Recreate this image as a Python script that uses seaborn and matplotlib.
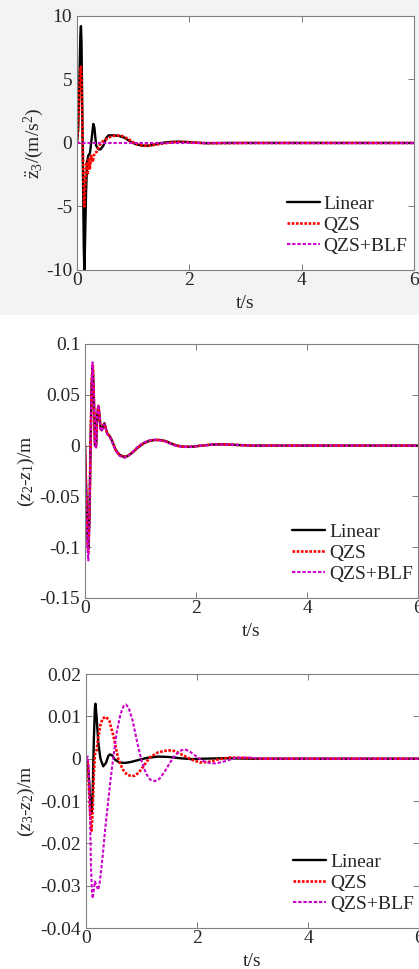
"""
Vehicle suspension response: body acceleration and the two
relative displacements for Linear, QZS and QZS+BLF cases.
"""

import matplotlib
matplotlib.use("Agg")
import matplotlib.pyplot as plt
from matplotlib.patches import Rectangle
import seaborn as sns

# ---- panel 1: body acceleration (m/s^2) ----
t1_lin = [0, 0.02, 0.04, 0.06, 0.07, 0.08, 0.10, 0.12, 0.13, 0.14, 0.16, 0.18, 0.20,
          0.23, 0.26, 0.29, 0.31, 0.34, 0.38, 0.42, 0.47, 0.52, 0.56, 0.65, 0.75, 0.85,
          0.95, 1.05, 1.15, 1.25, 1.35, 1.5, 1.65, 1.8, 1.95, 2.1, 2.3, 2.6, 3.0, 6.0]
a_lin = [0, 1.0, 4.5, 8.5, 9.2, 8.0, 0.0, -8.0, -10.0, -8.5, -4.0, -1.5, -1.0,
         -0.8, 0.3, 1.5, 1.2, -0.2, -0.5, -0.5, -0.2, 0.4, 0.6, 0.6, 0.55, 0.4,
         0.1, -0.1, -0.2, -0.22, -0.15, 0.0, 0.08, 0.1, 0.08, 0.03, -0.02, 0.0, 0.0, 0.0]
t1_qzs = [0, 0.02, 0.04, 0.06, 0.07, 0.08, 0.10, 0.12, 0.13, 0.15, 0.17, 0.19, 0.21,
          0.23, 0.25, 0.28, 0.31, 0.35, 0.40, 0.45, 0.52, 0.6, 0.7, 0.8, 0.9, 1.0,
          1.1, 1.2, 1.3, 1.45, 1.6, 1.8, 2.0, 2.2, 2.5, 3.0, 6.0]
a_qzs = [0, 1.5, 4.0, 5.8, 6.0, 5.0, 0.5, -4.0, -5.0, -3.0, -1.5, -2.5, -1.2,
         -2.0, -1.0, -1.5, -0.8, -0.7, -0.2, 0.1, 0.3, 0.5, 0.6, 0.55, 0.35, 0.05,
         -0.15, -0.22, -0.2, -0.1, 0.0, 0.1, 0.05, 0.0, -0.02, 0.0, 0.0]
t1_blf = [0, 6.0]
a_blf = [0, 0]

# ---- panel 2: z2 - z1 (m) ----
t2_lin = [0, 0.02, 0.04, 0.06, 0.08, 0.10, 0.12, 0.14, 0.16, 0.18, 0.20, 0.22, 0.24,
          0.26, 0.28, 0.30, 0.33, 0.35, 0.37, 0.40, 0.45, 0.50, 0.55, 0.62, 0.70, 0.76,
          0.85, 0.95, 1.05, 1.15, 1.25, 1.35, 1.45, 1.55, 1.65, 1.75, 1.85, 1.95, 2.1,
          2.3, 2.5, 2.7, 3.0, 6.0]
d21_lin = [0, -0.04, -0.085, -0.10, -0.07, 0.0, 0.06, 0.078, 0.045, 0.0, 0.0, 0.03, 0.038,
           0.03, 0.017, 0.015, 0.02, 0.022, 0.018, 0.012, 0.009, 0.003, -0.004, -0.009,
           -0.011, -0.0105, -0.007, -0.002, 0.002, 0.0045, 0.0055, 0.0055, 0.0045, 0.002,
           0.0, -0.001, -0.0012, -0.001, 0.0, 0.001, 0.0012, 0.0007, 0.0, 0.0]
d21_qzs = [0, -0.045, -0.09, -0.105, -0.072, 0.0, 0.062, 0.08, 0.046, 0.0, -0.001, 0.031, 0.039,
           0.031, 0.017, 0.015, 0.02, 0.021, 0.018, 0.012, 0.009, 0.003, -0.004, -0.0095,
           -0.0112, -0.0105, -0.007, -0.002, 0.002, 0.0045, 0.0055, 0.0055, 0.0042, 0.002,
           0.0, -0.001, -0.0012, -0.001, 0.0, 0.001, 0.0012, 0.0007, 0.0, 0.0]
t2_blf = [0, 0.02, 0.04, 0.06, 0.08, 0.10, 0.12, 0.135, 0.16, 0.18, 0.20, 0.22, 0.24,
          0.26, 0.28, 0.30, 0.33, 0.35, 0.37, 0.40, 0.45, 0.50, 0.55, 0.62, 0.70, 0.75,
          0.85, 0.95, 1.05, 1.15, 1.25, 1.32, 1.45, 1.55, 1.65, 1.75, 1.85, 1.95, 2.1,
          2.3, 2.5, 2.7, 3.0, 6.0]
d21_blf = [0, -0.05, -0.1, -0.113, -0.075, 0.0, 0.065, 0.082, 0.048, 0.0, -0.002, 0.033, 0.04,
           0.031, 0.016, 0.014, 0.019, 0.021, 0.017, 0.011, 0.008, 0.002, -0.005, -0.01,
           -0.012, -0.0115, -0.007, -0.001, 0.003, 0.005, 0.0058, 0.0055, 0.004, 0.0015,
           -0.0005, -0.0012, -0.0013, -0.001, 0.0, 0.001, 0.0012, 0.0007, 0.0, 0.0]

# ---- panel 3: z3 - z2 (m) ----
t3_lin = [0, 0.03, 0.06, 0.08, 0.10, 0.12, 0.14, 0.16, 0.17, 0.19, 0.22, 0.26, 0.31,
          0.36, 0.40, 0.43, 0.47, 0.52, 0.6, 0.7, 0.8, 0.95, 1.1, 1.3, 1.5, 1.7, 1.9,
          2.1, 2.5, 3.0, 6.0]
d32_lin = [0, -0.001, -0.006, -0.011, -0.013, -0.008, 0.004, 0.012, 0.013, 0.01, 0.004, 0.0,
           -0.0018, -0.001, 0.0006, 0.001, 0.0008, -0.0002, -0.0009, -0.001, -0.0008, -0.0003,
           0.0002, 0.0005, 0.0004, 0.0001, -0.0001, 0.0, 0.0001, 0.0, 0.0]
t3_qzs = [0, 0.03, 0.06, 0.08, 0.10, 0.12, 0.14, 0.16, 0.19, 0.22, 0.26, 0.30, 0.36,
          0.42, 0.5, 0.58, 0.66, 0.74, 0.82, 0.88, 0.95, 1.05, 1.15, 1.3, 1.48, 1.6,
          1.75, 1.9, 2.05, 2.2, 2.4, 2.6, 2.8, 3.2, 6.0]
d32_qzs = [0, -0.001, -0.009, -0.015, -0.017, -0.012, -0.004, 0.001, 0.002, 0.005, 0.008,
           0.0095, 0.0099, 0.009, 0.005, 0.0, -0.0025, -0.0038, -0.0041, -0.004, -0.0033,
           -0.0015, 0.0003, 0.0015, 0.002, 0.0018, 0.0008, -0.0002, -0.0009, -0.0008,
           -0.0001, 0.0003, 0.0002, 0.0, 0.0]
t3_blf = [0, 0.03, 0.05, 0.07, 0.09, 0.11, 0.12, 0.14, 0.16, 0.19, 0.22, 0.25, 0.30,
          0.35, 0.40, 0.45, 0.49, 0.55, 0.62, 0.68, 0.72, 0.77, 0.84, 0.92, 1.0, 1.08,
          1.16, 1.24, 1.32, 1.42, 1.52, 1.62, 1.72, 1.78, 1.86, 1.96, 2.1, 2.25, 2.35,
          2.5, 2.7, 2.9, 3.2, 6.0]
d32_blf = [0, 0.0005, -0.002, -0.012, -0.026, -0.032, -0.033, -0.031, -0.029, -0.030,
           -0.031, -0.029, -0.023, -0.016, -0.010, -0.004, 0.0, 0.006, 0.0105, 0.0125,
           0.0128, 0.012, 0.009, 0.004, -0.0005, -0.0035, -0.005, -0.0053, -0.0048, -0.003,
           -0.0008, 0.001, 0.002, 0.0022, 0.0018, 0.0008, -0.0005, -0.0011, -0.0011,
           -0.0006, 0.0002, 0.0003, 0.0, 0.0]

labels = ["Linear", "QZS", "QZS+BLF"]
y_ticks = [[-10, -5, 0, 5, 10],
           [-0.15, -0.1, -0.05, 0, 0.05, 0.1],
           [-0.04, -0.03, -0.02, -0.01, 0, 0.01, 0.02]]
y_ticklabels = [["-10", "-5", "0", "5", "10"],
                ["-0.15", "-0.1", "-0.05", "0", "0.05", "0.1"],
                ["-0.04", "-0.03", "-0.02", "-0.01", "0", "0.01", "0.02"]]
y_labels = [r"$\ddot{\mathrm{z}}_3$/(m/s$^2$)",
            r"($z_2$-$z_1$)/m",
            r"($z_3$-$z_2$)/m"]
x_ticks = [0, 2, 4, 6]

sns.set_style("ticks")
plt.rcParams["font.family"] = ["Liberation Serif", "DejaVu Serif"]
plt.rcParams["mathtext.fontset"] = "custom"
plt.rcParams["mathtext.rm"] = "Liberation Serif"
plt.rcParams["mathtext.it"] = "Liberation Serif:italic"
plt.rcParams["font.size"] = 14

fig = plt.figure(figsize=(4.19, 9.69), dpi=100)
fig.patch.set_facecolor("white")
# light grey backdrop behind the top panel
fig.patches.append(Rectangle((0, 0.675), 1, 0.325, transform=fig.transFigure,
                             facecolor="#f3f3f3", edgecolor="none", zorder=-5))

boxes = [(0.1838, 0.7214, 0.8043, 0.2621),
         (0.2029, 0.3829, 0.7947, 0.2621),
         (0.2053, 0.0423, 0.7947, 0.2621)]
series = [
    [(t1_lin, a_lin), (t1_qzs, a_qzs), (t1_blf, a_blf)],
    [(t2_lin, d21_lin), (t2_lin, d21_qzs), (t2_blf, d21_blf)],
    [(t3_lin, d32_lin), (t3_qzs, d32_qzs), (t3_blf, d32_blf)],
]
styles = [dict(color="black", linestyle="-", linewidth=1.7),
          dict(color="#ff0000", linestyle=(0, (1, 0.6)), linewidth=1.9),
          dict(color="#cc00cc", linestyle=(0, (1.6, 0.9)), linewidth=1.5)]
ylabel_x = [-0.092, -0.144, -0.147]

for i, box in enumerate(boxes):
    ax = fig.add_axes(box)
    ax.set_facecolor("white")
    for (t, y), lab, st in zip(series[i], labels, styles):
        sns.lineplot(x=t, y=y, ax=ax, label=lab, sort=False, estimator=None, **st)
    ax.set_xlim(0, 6)
    ax.set_ylim(y_ticks[i][0], y_ticks[i][-1])
    ax.set_xticks(x_ticks)
    ax.set_xticklabels([str(v) for v in x_ticks])
    ax.set_yticks(y_ticks[i])
    ax.set_yticklabels(y_ticklabels[i])
    ax.tick_params(direction="in", length=4, width=0.6, color="#666666",
                   top=True, right=True, labelsize=14)
    ax.tick_params(axis="x", pad=1.5)
    ax.tick_params(axis="y", pad=3.5)
    for sp in ax.spines.values():
        sp.set_color("#808080")
        sp.set_linewidth(0.8)
    ax.set_xlabel("t/s", fontsize=14)
    ax.set_ylabel(y_labels[i], fontsize=14)
    ax.xaxis.set_label_coords(0.5, -0.1)
    ax.yaxis.set_label_coords(ylabel_x[i], 0.5)
    ax.legend(loc="upper left", bbox_to_anchor=(0.622, 0.295), frameon=False,
              borderaxespad=0, borderpad=0, handlelength=1.7, handletextpad=0.2,
              labelspacing=0.18, fontsize=14)

fig.savefig("out.png", dpi=100, facecolor=fig.get_facecolor())
